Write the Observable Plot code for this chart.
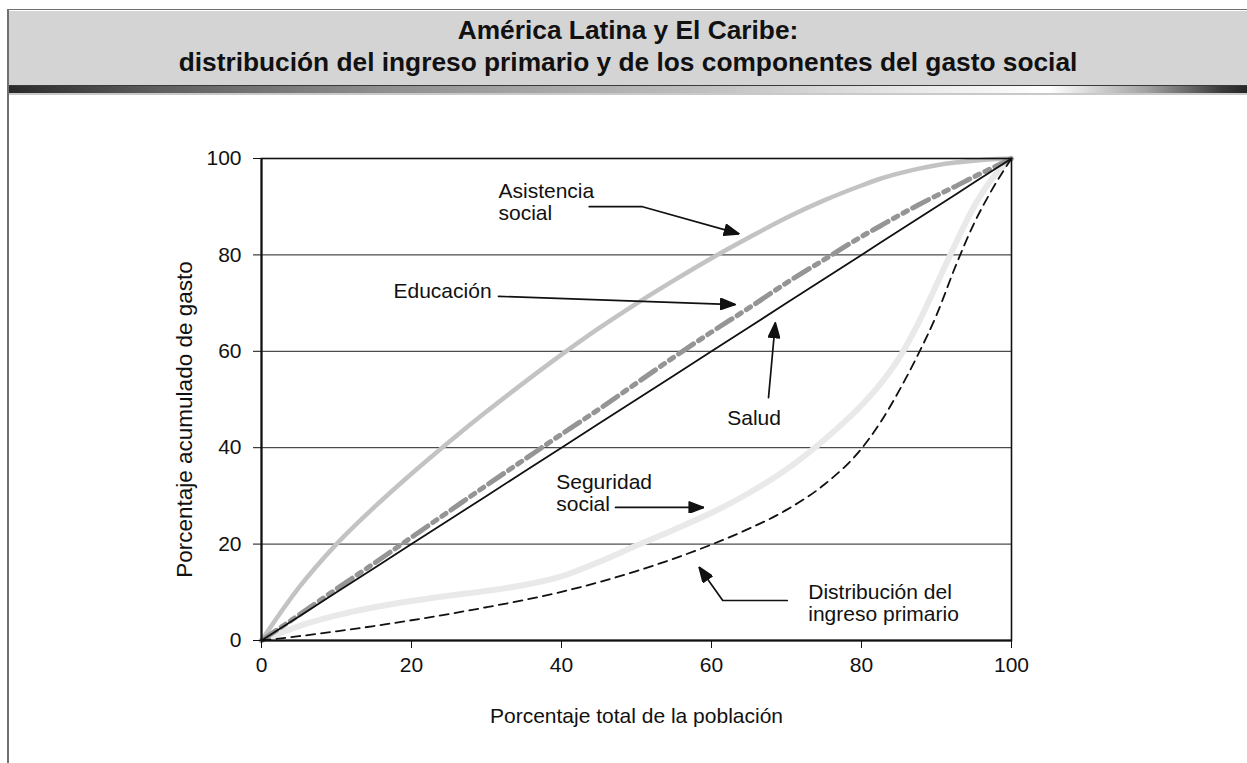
<!DOCTYPE html>
<html>
<head>
<meta charset="utf-8">
<script src="https://cdn.jsdelivr.net/npm/d3@7"></script>
<script src="https://cdn.jsdelivr.net/npm/@observablehq/plot@0.6"></script>
<style>
  html, body { margin: 0; padding: 0; background: #fff; }
  body { width: 1247px; height: 763px; overflow: hidden; position: relative; font-family: "Liberation Sans", Arial, Helvetica, sans-serif; }
  #frame { position: absolute; left: 7px; top: 9px; width: 1250px; height: 770px; border-left: 2px solid #707070; border-top: 1.5px solid #707070; }
  #header { position: absolute; left: 9px; top: 10.5px; right: 0; height: 74.5px; background: #d4d4d4; }
  #band { position: absolute; left: 9px; top: 85px; right: 0; height: 7px;
    border-top: 1px solid #3a3a3a; border-bottom: 2px solid #c9c9c9;
    background: linear-gradient(to right, #2a2a2a 0%, #5e5e5e 12%, #8e8e8e 30%, #bdbdbd 55%, #e6e6e6 72%, #ffffff 84%, #a0a0a0 92%, #3a3a3a 98%, #262626 100%); }
  #title { position: absolute; left: 9px; right: 0; top: 13.5px; text-align: center; font-weight: bold; font-size: 26.3px; line-height: 32px; color: #111; }
  #chart { position: absolute; left: 0; top: 95px; }
</style>
</head>
<body>
<div id="frame"></div>
<div id="header"></div>
<div id="band"></div>
<div id="title">América Latina y El Caribe:<br>distribución del ingreso primario y de los componentes del gasto social</div>
<div id="chart"></div>
<script>
// ---- Data ----
const poblacion = [0, 5, 10, 15, 20, 25, 30, 35, 40, 45, 50, 55, 60, 65, 70, 75, 80, 82.5, 85, 87.5, 90, 92.5, 95, 97.5, 100];
const asistenciaSocial = [0, 11, 20, 27.6, 34.6, 41.2, 47.5, 53.5, 59.3, 64.8, 69.9, 74.7, 79.3, 83.6, 87.7, 91.3, 94.4, 95.8, 96.9, 97.85, 98.6, 99.15, 99.55, 99.85, 100];
const educacion = [0, 5.3, 10.7, 16, 21.4, 26.8, 32.2, 37.5, 42.8, 48, 53.4, 58.8, 64, 69, 74.2, 79, 83.8, 86, 88.2, 90.3, 92.3, 94.2, 96.2, 98.1, 100];
const salud = [0, 5, 10, 15, 20, 25, 30, 35, 40, 45, 50, 55, 60, 65, 70, 75, 80, 82.5, 85, 87.5, 90, 92.5, 95, 97.5, 100];
const seguridadSocial = [0, 3, 5.2, 6.9, 8.2, 9.3, 10.3, 11.5, 13.3, 16.3, 19.7, 23, 26.5, 30.6, 35.5, 41.6, 48.8, 53.2, 58.6, 65.6, 73.8, 82.2, 90, 96, 100];
const ingresoPrimario = [0, 0.9, 1.9, 3, 4.2, 5.5, 6.9, 8.4, 10.1, 12.1, 14.4, 17, 19.9, 23.2, 27.1, 32.3, 39.8, 45.2, 51.8, 59.2, 67.5, 77.5, 86.5, 93.8, 100];

const xTicks = [0, 20, 40, 60, 80, 100];
const yTicks = [0, 20, 40, 60, 80, 100];
const gridValues = [20, 40, 60, 80];

const xLabel = "Porcentaje total de la población";
const yLabel = "Porcentaje acumulado de gasto";

// Annotation labels (data coordinates)
const labels = [
  {text: "Asistencia\nsocial", x: 31.6, y: 91.0},
  {text: "Educación", x: 17.6, y: 72.5},
  {text: "Salud", x: 62.1, y: 46.1},
  {text: "Seguridad\nsocial", x: 39.3, y: 30.7},
  {text: "Distribución del\ningreso primario", x: 72.9, y: 7.8}
];
// Annotation arrows (polyline vertices in data coordinates, last vertex = tip)
const arrowPaths = [
  {id: "asistencia", pts: [[43.7, 90.0], [50.8, 90.0], [63.6, 84.4]]},
  {id: "educacion", pts: [[31.6, 71.4], [63.1, 69.7]]},
  {id: "salud", pts: [[67.6, 50.4], [68.5, 65.8]]},
  {id: "seguridad", pts: [[47.2, 27.6], [58.9, 27.6]]},
  {id: "ingreso", pts: [[70.1, 8.3], [61.5, 8.3], [58.4, 15.1]]}
];

// ---- Build tables ----
const toRows = (ys) => poblacion.map((x, i) => ({x, y: ys[i]}));
const arrowRows = arrowPaths.flatMap(a => a.pts.map(([x, y]) => ({id: a.id, x, y})));

function filledArrow(color, context) {
  const ns = "http://www.w3.org/2000/svg";
  const doc = (context && context.document) || document;
  const m = doc.createElementNS(ns, "marker");
  m.setAttribute("viewBox", "-15 -6 16 12");
  m.setAttribute("markerWidth", 16);
  m.setAttribute("markerHeight", 12);
  m.setAttribute("markerUnits", "userSpaceOnUse");
  m.setAttribute("refX", 0);
  m.setAttribute("refY", 0);
  m.setAttribute("orient", "auto");
  const p = doc.createElementNS(ns, "path");
  p.setAttribute("d", "M0.5,0L-14,-5.5L-14,5.5Z");
  p.setAttribute("fill", "#111");
  m.appendChild(p);
  return m;
}

const chart = Plot.plot({
  width: 1247,
  height: 668,
  marginLeft: 261,
  marginRight: 236,
  marginTop: 63,
  marginBottom: 123,
  style: {fontFamily: "'Liberation Sans', Arial, Helvetica, sans-serif", fontSize: "21px", color: "#111", background: "transparent", overflow: "visible"},
  x: {domain: [0, 100]},
  y: {domain: [0, 100]},
  marks: [
    Plot.gridY(gridValues, {stroke: "#222", strokeOpacity: 1, strokeWidth: 1}),
    Plot.line(toRows(seguridadSocial), {x: "x", y: "y", stroke: "#e9e9e9", strokeWidth: 6, curve: "monotone-x"}),
    Plot.line(toRows(asistenciaSocial), {x: "x", y: "y", stroke: "#c3c3c3", strokeWidth: 4.5, curve: "monotone-x"}),
    Plot.line(toRows(educacion), {x: "x", y: "y", stroke: "#959595", strokeWidth: 5, strokeDasharray: "18,6,5,6,5,6", curve: "monotone-x"}),
    Plot.line(toRows(ingresoPrimario), {x: "x", y: "y", stroke: "#111", strokeWidth: 1.8, strokeDasharray: "9,6", curve: "monotone-x"}),
    Plot.line(toRows(salud), {x: "x", y: "y", stroke: "#111", strokeWidth: 1.8}),
    Plot.frame({stroke: "#111", strokeWidth: 1.6}),
    Plot.ruleX([0], {stroke: "#111", strokeWidth: 2}),
    Plot.ruleY([0], {stroke: "#111", strokeWidth: 2}),
    Plot.axisX({ticks: xTicks, tickSize: 8, tickPadding: 9, label: null, tickFormat: d => String(d)}),
    Plot.axisY({ticks: yTicks, tickSize: 8, tickPadding: 12, label: null, tickFormat: d => String(d)}),
    Plot.line(arrowRows, {x: "x", y: "y", z: "id", stroke: "#111", strokeWidth: 1.7, markerEnd: filledArrow}),
    Plot.text(labels, {x: "x", y: "y", text: "text", textAnchor: "start", lineHeight: 1.05, fill: "#111"}),
    Plot.text([xLabel], {frameAnchor: "bottom", textAnchor: "middle", dy: 82, fill: "#111"}),
    Plot.text([yLabel], {frameAnchor: "left", textAnchor: "middle", rotate: -90, dx: -77, dy: 20, fontSize: 22.5, fill: "#111"})
  ]
});
document.getElementById("chart").appendChild(chart);
</script>
</body>
</html>
